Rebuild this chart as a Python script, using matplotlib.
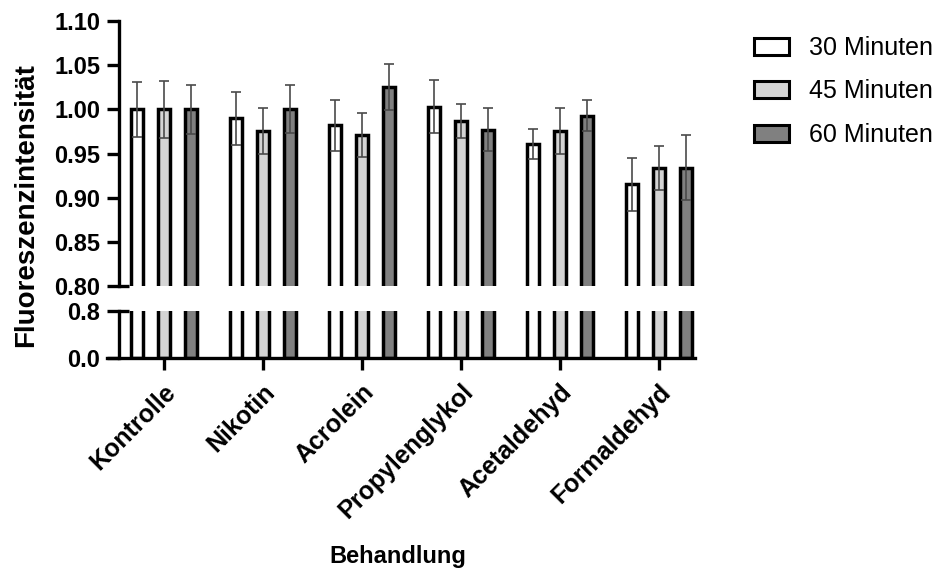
import numpy as np
import matplotlib
matplotlib.use("Agg")
import matplotlib.pyplot as plt
from matplotlib.patches import Patch
from matplotlib.ticker import FormatStrFormatter

plt.rcParams['font.family'] = ['Liberation Sans', 'DejaVu Sans']

# values (mean, SD)
groups = ["Kontrolle", "Nikotin", "Acrolein", "Propylenglykol", "Acetaldehyd", "Formaldehyd"]
series = ["30 Minuten", "45 Minuten", "60 Minuten"]
mean_30 = [1.000, 0.990, 0.982, 1.003, 0.961, 0.915]
sd_30 = [0.031, 0.030, 0.029, 0.030, 0.017, 0.030]
mean_45 = [1.000, 0.975, 0.971, 0.987, 0.976, 0.934]
sd_45 = [0.032, 0.026, 0.025, 0.019, 0.026, 0.025]
mean_60 = [1.000, 1.000, 1.025, 0.977, 0.993, 0.934]
sd_60 = [0.028, 0.027, 0.026, 0.024, 0.018, 0.037]
top_ticks = [0.80, 0.85, 0.90, 0.95, 1.00, 1.05, 1.10]
bottom_ticks = [0.0, 0.8]

colors = ["#ffffff", "#d4d4d4", "#808080"]
means = [mean_30, mean_45, mean_60]
sds = [sd_30, sd_45, sd_60]

W, H = 947, 574
fig = plt.figure(figsize=(W / 100, H / 100), dpi=100)

left_px, right_px = 107, 695
ax_top = fig.add_axes([left_px / W, 1 - 286 / H, (right_px - left_px) / W, 265 / H])
ax_bot = fig.add_axes([left_px / W, 1 - 358 / H, (right_px - left_px) / W, 47 / H])

x = np.arange(len(groups))
offsets = [-0.273, 0.0, 0.273]
bar_w = 0.126
lw = 2.5
spine_pos = 12 / (right_px - left_px)

for ax in (ax_top, ax_bot):
    for k in range(3):
        ax.bar(x + offsets[k], means[k], width=bar_w, color=colors[k],
               edgecolor="black", linewidth=lw, zorder=2)
    ax.set_xlim(-0.576, 5.364)
    ax.spines['top'].set_visible(False)
    ax.spines['right'].set_visible(False)
    ax.spines['left'].set_position(('axes', spine_pos))
    ax.spines['left'].set_linewidth(2.4)
    ax.spines['bottom'].set_linewidth(2.4)
    ax.tick_params(axis='y', length=8.6, width=2.4, pad=5, labelsize=17)

for k in range(3):
    ax_top.errorbar(x + offsets[k], means[k], yerr=sds[k], fmt='none',
                    ecolor="#4a4a4a", elinewidth=1.2, capsize=3.4,
                    capthick=1.2, zorder=3)

ax_top.set_ylim(0.80, 1.10)
ax_top.set_yticks(top_ticks)
ax_top.yaxis.set_major_formatter(FormatStrFormatter('%.2f'))
ax_top.spines['bottom'].set_visible(False)
ax_top.set_xticks([])

ax_bot.set_ylim(0.0, 0.8)
ax_bot.set_yticks(bottom_ticks)
ax_bot.yaxis.set_major_formatter(FormatStrFormatter('%.1f'))
ax_bot.set_xticks(x)
ax_bot.set_xticklabels(groups, rotation=45, ha='right', va='top',
                       rotation_mode='anchor', fontsize=18, fontweight='bold')
ax_bot.tick_params(axis='x', length=8.6, width=2.4, pad=7)

for ax in (ax_top, ax_bot):
    for lab in ax.get_yticklabels():
        lab.set_fontweight('bold')

# break markers at the ends of the y axis segments
brk = 10 / (right_px - left_px)
ax_top.plot([spine_pos, spine_pos + brk], [0, 0], transform=ax_top.transAxes,
            color="black", lw=2.4, clip_on=False, solid_capstyle='butt')
ax_bot.plot([spine_pos, spine_pos + brk], [1, 1], transform=ax_bot.transAxes,
            color="black", lw=2.4, clip_on=False, solid_capstyle='butt')

fig.text(26 / W, 1 - 205 / H, "Fluoreszenzintensität", rotation=90,
         ha='center', va='center', fontsize=20, fontweight='bold')
fig.text(398 / W, 1 - 556 / H, "Behandlung", ha='center', va='center',
         fontsize=17, fontweight='bold')

handles = [Patch(facecolor=c, edgecolor="black", linewidth=2.2) for c in colors]
fig.legend(handles, series, loc='upper left', bbox_to_anchor=(754 / W, 1 - 36 / H),
           frameon=False, fontsize=18, borderpad=0, borderaxespad=0,
           handlelength=1.4, handleheight=0.65, handletextpad=0.8,
           labelspacing=0.78)

fig.savefig("out.png", dpi=100)
